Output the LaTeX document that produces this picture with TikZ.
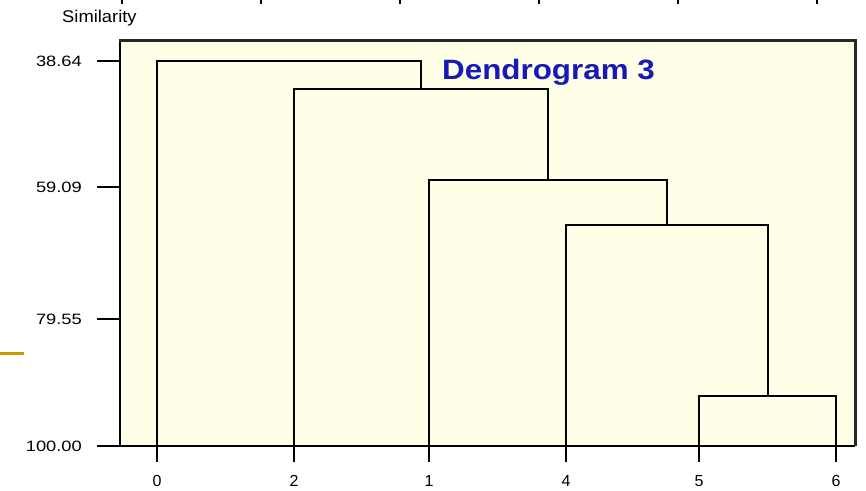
\documentclass[tikz,border=0pt]{standalone}
\usepackage{fontspec}
\usepackage{graphicx}
\setmainfont{Liberation Sans}
\definecolor{panel}{RGB}{255,255,232}
\definecolor{titleblue}{RGB}{25,25,185}
\definecolor{gold}{RGB}{204,153,0}
\definecolor{frame}{RGB}{40,40,40}
\begin{document}
\begin{tikzpicture}[x=1pt,y=-1pt,
  dline/.style={line width=2pt, black, line cap=rect},
  tickline/.style={line width=1.6pt, black},
  ylab/.style={anchor=base east, inner sep=0, font=\fontsize{15}{15}\selectfont},
  xlab/.style={anchor=base, inner sep=0, font=\fontsize{16}{16}\selectfont},
]
\useasboundingbox (0,0) rectangle (866,490);
\fill[white] (0,0) rectangle (866,490);
% top ticks from the panel above
\foreach \tx in {122,261,400,539,678,817} \draw[line width=1.4pt] (\tx,0) -- (\tx,4);
% axis title
\node[anchor=base west, inner sep=0, font=\fontsize{17}{17}\selectfont] (simlab) at (62,22) {\scalebox{1.08}[1]{Similarity}};
% plot panel
\fill[panel] (120,40) rectangle (855,446);
\draw[line width=1.6pt, black] (120,40) -- (120,446);
\draw[line width=3pt, frame] (119,40) -- (855,40) -- (855,446);
\draw[line width=1.8pt, black] (97,446) -- (855,446);
% y ticks and labels
\foreach \yy/\lab in {61/38.64, 187/59.09, 319/79.55} {
  \draw[tickline] (97,\yy) -- (120,\yy);
  \node[ylab] at (82,\yy+5.5) {\scalebox{1.22}[1]{\lab}};
}
\node[ylab] (y100) at (82,451.5) {\scalebox{1.22}[1]{100.00}};
% leaves
\coordinate (l0) at (157,446);
\coordinate (l2) at (294,446);
\coordinate (l1) at (429,446);
\coordinate (l4) at (566,446);
\coordinate (l5) at (699,446);
\coordinate (l6) at (836,446);
\foreach \n/\t in {l0/0,l2/2,l1/1,l4/4,l5/5,l6/6} {
  \draw[tickline] (\n) -- ++(0,16);
  \node[xlab] at ([yshift=-40pt]\n) {\t};
}
% merge points
\coordinate (m56) at (767.5,396);
\coordinate (m456) at (666.75,225);
\coordinate (m1456) at (547.9,180);
\coordinate (m21456) at (421,89);
\coordinate (mall) at (289,61);
% dendrogram
\draw[dline] (l5) |- (m56) -| (l6);
\draw[dline] (l4) |- (m456) -| (m56);
\draw[dline] (l1) |- (m1456) -| (m456);
\draw[dline] (l2) |- (m21456) -| (m1456);
\draw[dline] (l0) |- (mall) -| (m21456);
% title
\node[anchor=base west, inner sep=0, text=titleblue, font=\bfseries\fontsize{28}{28}\selectfont] (title) at (442,79) {\scalebox{1.12}[1]{Dendrogram 3}};
% gold mark at left
\coordinate (g1) at (0,353);
\coordinate (g2) at (24,353);
\draw[gold, line width=3pt] (g1) -- (g2);
\end{tikzpicture}
\end{document}
